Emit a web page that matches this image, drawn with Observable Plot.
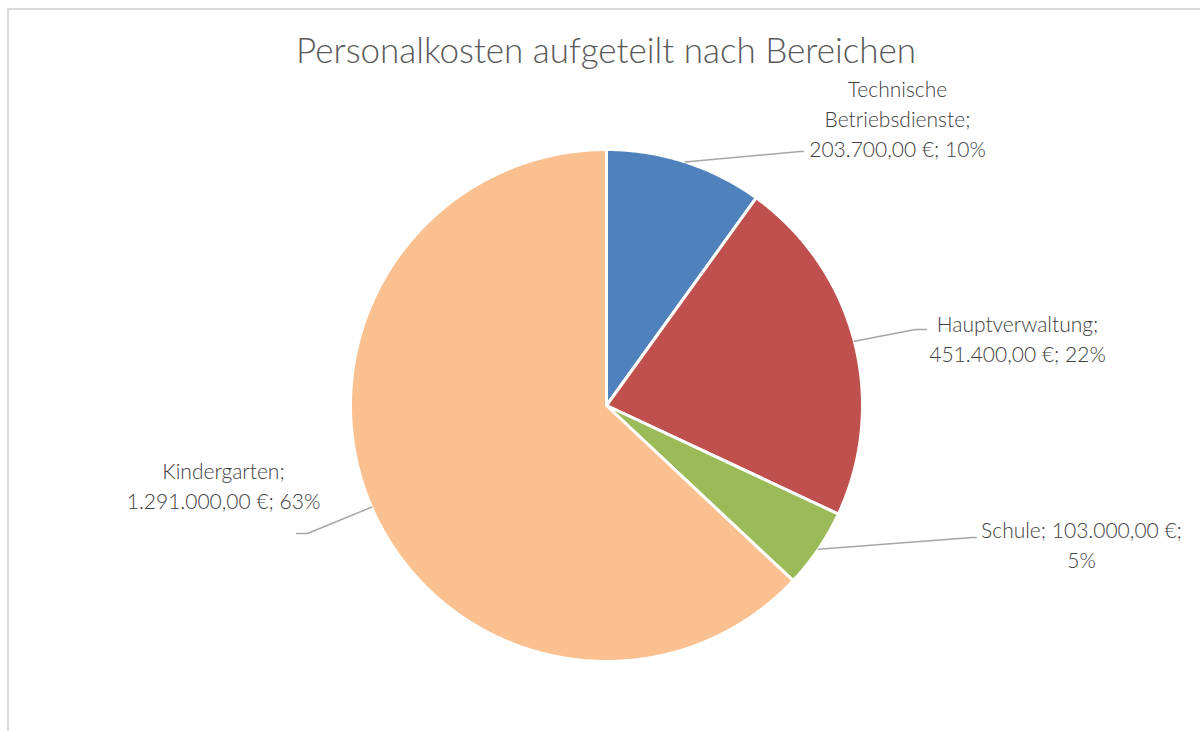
<!DOCTYPE html>
<html>
<head>
<meta charset="utf-8">
<script src="https://cdn.jsdelivr.net/npm/d3@7"></script>
<script src="https://cdn.jsdelivr.net/npm/@observablehq/plot@0.6"></script>
<style>
  html, body { margin: 0; padding: 0; background: #fff; overflow: hidden; }
  #frame { position: absolute; left: 7px; top: 8px; width: 1300px; height: 900px; border-left: 2px solid #d9d9d9; border-top: 2px solid #d9d9d9; }
  #title { position: absolute; left: 0; width: 1212px; top: 28px; text-align: center; font-family: Lato, sans-serif; font-weight: 300; font-size: 35px; color: #595959; white-space: nowrap; }
  #chart { position: absolute; left: 0; top: 0; }
</style>
</head>
<body>
<div id="frame"></div>
<div id="title">Personalkosten aufgeteilt nach Bereichen</div>
<div id="chart"></div>
<script>
// ---- data ----
const categories = ["Technische Betriebsdienste", "Hauptverwaltung", "Schule", "Kindergarten"];
const values = [203700, 451400, 103000, 1291000];
const colors = ["#4f81bd", "#c0504d", "#9bbb59", "#fac090"];

// ---- layout (pixels) ----
const center = {x: 606, y: 405};
const radius = 256;
// label block centre, leader elbow + end, and how to break the text
const labelX = [897, 1017, 1081, 223];
const labelY = [117, 337, 543, 484];
const elbowX = [800, 915, 972, 307];
const elbowY = [151, 329, 537, 533];
const endX = [803, 926, 976, 296];
const endY = [151, 329, 537, 533];
const breakMode = ["splitName", "afterName", "beforePct", "afterName"];

const de = d3.formatLocale({decimal: ",", thousands: ".", grouping: [3], currency: ["", " €"]});
const fmt = de.format(",.2f");
const total = d3.sum(values);

const pie = d3.pie().sort(null).value(d => d.value)(categories.map((c, i) => ({cat: c, value: values[i], i})));

// slice polygons, sampled along the arc
const slicePts = [];
for (const p of pie) {
  const n = Math.max(2, Math.ceil((p.endAngle - p.startAngle) / (Math.PI / 360)));
  slicePts.push({cat: p.data.cat, x: center.x, y: center.y});
  for (let k = 0; k <= n; k++) {
    const a = p.startAngle + (p.endAngle - p.startAngle) * k / n;
    slicePts.push({cat: p.data.cat, x: center.x + radius * Math.sin(a), y: center.y - radius * Math.cos(a)});
  }
  slicePts.push({cat: p.data.cat, x: center.x, y: center.y});
}

// leader lines
const leaderPts = [];
pie.forEach((p, i) => {
  const a = (p.startAngle + p.endAngle) / 2;
  leaderPts.push({i, x: center.x + radius * Math.sin(a), y: center.y - radius * Math.cos(a)});
  leaderPts.push({i, x: elbowX[i], y: elbowY[i]});
  leaderPts.push({i, x: endX[i], y: endY[i]});
});

// labels
const labels = pie.map((p, i) => {
  const name = p.data.cat;
  const val = fmt(p.data.value) + " €";
  const pct = Math.round(p.data.value / total * 100) + "%";
  let text;
  if (breakMode[i] === "splitName") text = name.replace(" ", "\n") + ";\n" + val + "; " + pct;
  else if (breakMode[i] === "afterName") text = name + ";\n" + val + "; " + pct;
  else text = name + "; " + val + ";\n" + pct;
  return {x: labelX[i], y: labelY[i], text};
});

const chart = Plot.plot({
  width: 1200,
  height: 731,
  margin: 0,
  x: {type: "linear", domain: [0, 1200], range: [0, 1200], axis: null},
  y: {type: "linear", domain: [0, 731], range: [0, 731], axis: null},
  color: {domain: categories, range: colors},
  style: {background: "transparent"},
  marks: [
    Plot.line(slicePts, {x: "x", y: "y", z: "cat", fill: "cat", stroke: "white", strokeWidth: 3, strokeLinejoin: "round", curve: "linear"}),
    Plot.line(leaderPts, {x: "x", y: "y", z: "i", stroke: "#a6a6a6", strokeWidth: 1.5}),
    Plot.text(labels, {x: "x", y: "y", text: "text", textAnchor: "middle", lineAnchor: "middle", lineHeight: 1.43, fontSize: 21, fontWeight: 300, fontFamily: "Lato, sans-serif", fill: "#404040"})
  ]
});
document.getElementById("chart").appendChild(chart);
</script>
</body>
</html>
